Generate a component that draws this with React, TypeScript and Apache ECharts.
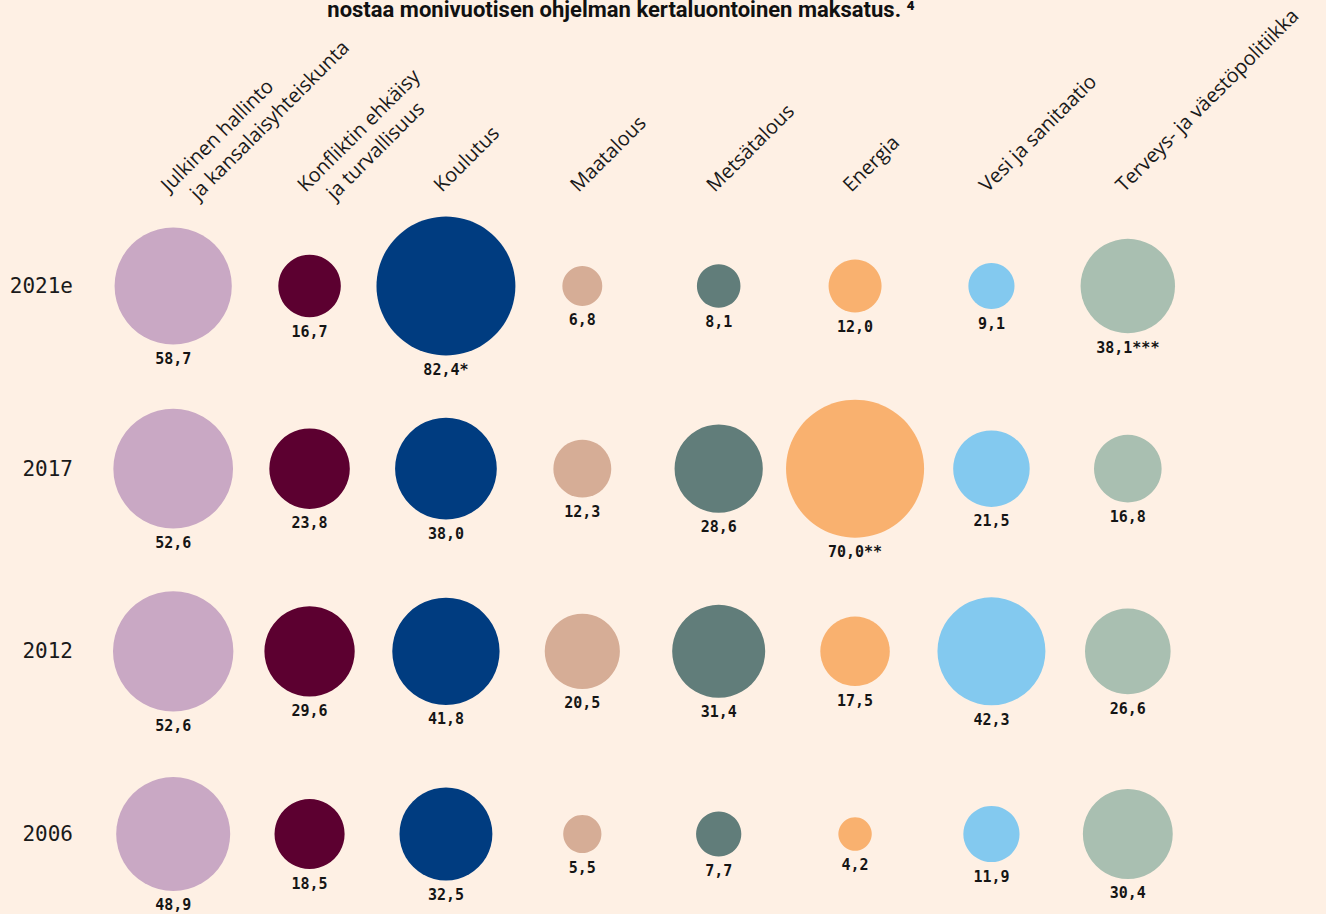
import React, { useEffect, useRef } from 'react';
import * as echarts from 'echarts';

const categories = [
  'Julkinen hallinto\nja kansalaisyhteiskunta',
  'Konfliktin ehkäisy\nja turvallisuus',
  'Koulutus',
  'Maatalous',
  'Metsätalous',
  'Energia',
  'Vesi ja sanitaatio',
  'Terveys- ja väestöpolitiikka',
];
const years = ['2021e', '2017', '2012', '2006'];

const values2021e = [58.7, 16.7, 82.4, 6.8, 8.1, 12.0, 9.1, 38.1];
const values2017 = [52.6, 23.8, 38.0, 12.3, 28.6, 70.0, 21.5, 16.8];
const values2012 = [52.6, 29.6, 41.8, 20.5, 31.4, 17.5, 42.3, 26.6];
const values2006 = [48.9, 18.5, 32.5, 5.5, 7.7, 4.2, 11.9, 30.4];

const notes2021e = ['', '', '*', '', '', '', '', '***'];
const notes2017 = ['', '', '', '', '', '**', '', ''];
const notes2012 = ['', '', '', '', '', '', '', ''];
const notes2006 = ['', '', '', '', '', '', '', ''];

const titleText = 'nostaa monivuotisen ohjelman kertaluontoinen maksatus. \u2074';

const valuesByYear = [values2021e, values2017, values2012, values2006];
const notesByYear = [notes2021e, notes2017, notes2012, notes2006];

const colors = ['#C9A8C4', '#5C0030', '#003C80', '#D6AD96', '#617D7A', '#F9B16F', '#83C9EF', '#A9BFB1'];
const rowScale = [15.3, 16.5, 16.6, 16.3];
const BG = '#FEF0E4';

const fmt = (v: number) => v.toFixed(1).replace('.', ',');

export default function App() {
  const ref = useRef<HTMLDivElement>(null);
  useEffect(() => {
    if (!ref.current) return;
    const chart = echarts.init(ref.current, null, { renderer: 'svg' });
    const series = categories.map((c, j) => ({
      type: 'scatter',
      name: c,
      clip: false,
      data: years.map((y, i) => [j, i, valuesByYear[i][j]]),
      symbol: 'circle',
      symbolSize: (val: number[]) => rowScale[val[1]] * Math.sqrt(val[2]),
      itemStyle: { color: colors[j], opacity: 1 },
      label: {
        show: true,
        position: 'bottom',
        distance: 7,
        color: '#151515',
        fontFamily: 'DejaVu Sans Mono',
        fontWeight: 'bold',
        fontSize: 15,
        formatter: (p: any) => fmt(p.value[2]) + notesByYear[p.value[1]][j],
      },
      emphasis: { disabled: true },
    }));
    chart.setOption({
      animation: false,
      backgroundColor: BG,
      grid: { left: 105, right: 130, top: 286, bottom: 80, containLabel: false, outerBoundsMode: 'none' },
      xAxis: {
        type: 'category',
        position: 'top',
        data: categories,
        boundaryGap: true,
        axisLine: { show: false },
        axisTick: { show: false },
        splitLine: { show: false },
        axisLabel: {
          interval: 0,
          rotate: -45,
          margin: 89,
          align: 'left',
          verticalAlign: 'middle',
          color: '#1a1a1a',
          fontFamily: 'Open Sans',
          fontSize: 20,
          formatter: (val: string) => {
            const parts = val.split('\n');
            return parts.length > 1 ? `{a|${parts[0]}}\n{b|${parts[1]}}` : `{a|${parts[0]}}\n{a| }`;
          },
          rich: {
            a: { fontFamily: 'Open Sans', fontSize: 20, lineHeight: 26, color: '#1a1a1a' },
            b: { fontFamily: 'Open Sans', fontSize: 20, lineHeight: 26, color: '#1a1a1a', padding: [0, 0, 0, 15] },
          },
        },
      },
      yAxis: {
        type: 'category',
        data: years,
        inverse: true,
        boundaryGap: false,
        axisLine: { show: false },
        axisTick: { show: false },
        splitLine: { show: false },
        axisLabel: {
          margin: 32,
          color: '#1a1a1a',
          fontFamily: 'DejaVu Sans Mono',
          fontSize: 21,
        },
      },
      graphic: [
        {
          type: 'text',
          x: 621,
          y: 9,
          style: {
            text: titleText,
            fill: '#111',
            font: 'bold 22px Roboto',
            textAlign: 'center',
            textVerticalAlign: 'middle',
          },
        },
      ],
      series,
    });
    return () => chart.dispose();
  }, []);
  return <div ref={ref} style={{ position: 'fixed', left: 0, top: 0, width: 1326, height: 914 }} />;
}
